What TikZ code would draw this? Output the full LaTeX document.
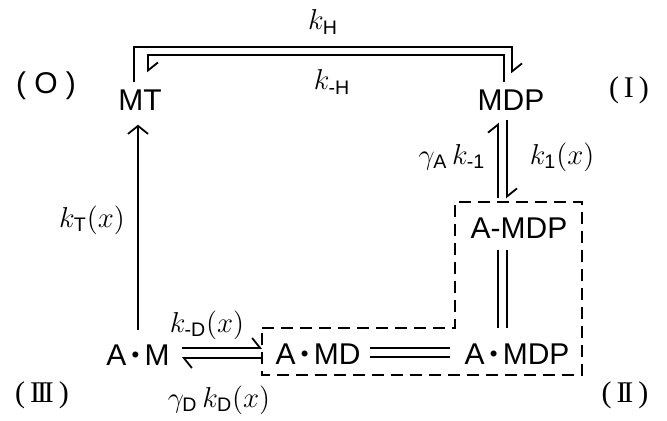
\documentclass[tikz,border=0pt]{standalone}
\usepackage{amsmath}
\usepackage{fontspec}
\setsansfont{Liberation Sans}
\newfontfamily\serifnum{Liberation Serif}
\usetikzlibrary{arrows.meta,calc}
\newcommand{\sub}[1]{\text{\sffamily #1}}
\newcommand{\cdt}{\,\raisebox{3.4pt}{$\scriptscriptstyle\bullet$}\,}
\newcommand{\romI}{I}
\newcommand{\romII}{I\kern-1.6pt I}
\newcommand{\romIII}{I\kern-1.6pt I\kern-1.6pt I}
\tikzset{
  lbl/.style={font=\fontsize{15}{18}\selectfont\sffamily, inner sep=0pt},
  mlbl/.style={font=\fontsize{14}{17}\selectfont, inner sep=0pt},
  numlbl/.style={font=\fontsize{15}{18}\selectfont\serifnum, inner sep=0pt},
  ln/.style={line width=0.9pt},
  harp/.style={ln, -{Straight Barb[left,length=4pt,width=10pt]}},
  arr/.style={ln, -{Straight Barb[length=4pt,width=10pt]}},
  dashbox/.style={line width=0.9pt, dash pattern=on 6pt off 3.5pt},
}
\begin{document}
\begin{tikzpicture}[x=0.5pt,y=-0.5pt]
\useasboundingbox (0,0) rectangle (667,420);
% main nodes
\node[lbl] (MT) at (140,100) {MT};
\node[lbl] (MDP) at (511,100) {MDP};
\node[lbl] (AMDPa) at (519,228) {A-MDP};
\node[lbl] (AM) at (138,355) {A\cdt M};
\node[lbl] (AMD) at (318,354) {A\cdt MD};
\node[lbl] (AMDPb) at (517,354) {A\cdt MDP};
% state labels
\node[lbl] (s0) at (46,86) {( O )};
\node[numlbl] (s1) at (629,90) {(\,\romI\,)};
\node[numlbl] (s2) at (625,395) {(\,\romII\,)};
\node[numlbl] (s3) at (42,395) {(\,\romIII\,)};
% rate labels
\node[mlbl] (kH) at (323,22) {$k_{\sub{H}}$};
\node[mlbl] (kmH) at (332,82) {$k_{\sub{-H}}$};
\node[mlbl] (gAk) at (452,157) {$\gamma_{\sub{A}}\,k_{\sub{-1}}$};
\node[mlbl] (k1) at (562,157) {$k_{\sub{1}}(x)$};
\node[mlbl] (kT) at (92,220) {$k_{\sub{T}}(x)$};
\node[mlbl] (kmD) at (207,325) {$k_{\sub{-D}}(x)$};
\node[mlbl] (gDk) at (219,400) {$\gamma_{\sub{D}}\,k_{\sub{D}}(x)$};
% k_H (outer) and k_-H (inner)
\draw[harp] ($(MT.north)+(-6,-7)$) |- ($(MDP.north)+(1,-42)$) -- ($(MDP.north)+(1,-16)$);
\draw[harp] ($(MDP.north)+(-7,-7)$) |- ($(MT.north)+(8,-34)$) -- ($(MT.north)+(8,-17)$);
% k_T
\draw[arr] ($(AM.north)+(0,-14)$) -- ($(AM.north |- MT.south)+(0,14)$);
% MDP <-> A-MDP
\draw[harp] ($(AMDPa.north)+(-21,-19)$) -- ($(MDP.south)+(-13,12)$);
\draw[harp] ($(MDP.south)+(-4,9)$) -- ($(AMDPa.north)+(-12,-19)$);
% A-MDP || A.MDP
\draw[ln] ($(AMDPa.south)+(-21,11)$) -- ($(AMDPb.north)+(-19,-15)$);
\draw[ln] ($(AMDPa.south)+(-12,11)$) -- ($(AMDPb.north)+(-10,-15)$);
% A.MD = A.MDP
\draw[ln] ($(AMD.center)+(52,-6)$) -- ($(AMDPb.center)+(-67,-6)$);
\draw[ln] ($(AMD.center)+(52,3)$) -- ($(AMDPb.center)+(-67,3)$);
% A.M <=> A.MD
\draw[harp] ($(AM.center)+(44,-7)$) -- ($(AMD.center)+(-56,-6)$);
\draw[harp] ($(AMD.center)+(-56,4)$) -- ($(AM.center)+(44,3)$);
% dashed box
\draw[dashbox] (262,328) -- (455,328) -- (455,202) -- (582,202) -- (582,375) -- (262,375) -- cycle;
\end{tikzpicture}
\end{document}
